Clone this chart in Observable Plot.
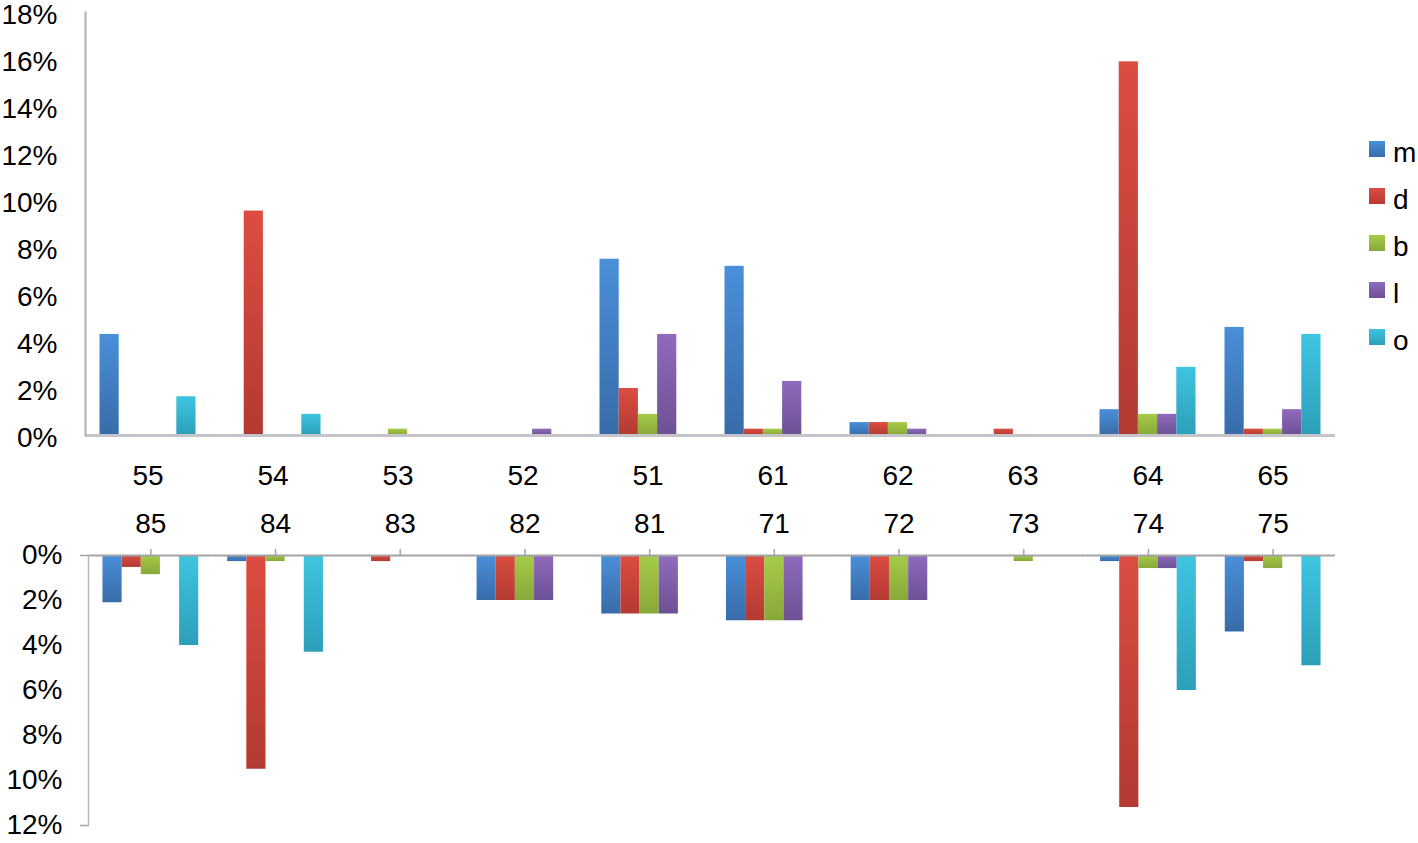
<!DOCTYPE html>
<html>
<head>
<meta charset="utf-8">
<script src="https://cdn.jsdelivr.net/npm/d3@7"></script>
<script src="https://cdn.jsdelivr.net/npm/@observablehq/plot@0.6"></script>
<style>
  html, body { margin: 0; padding: 0; background: #fff; }
  body { width: 1418px; height: 843px; overflow: hidden; position: relative;
         font-family: "Liberation Sans", Arial, sans-serif; color: #000; }
  #top, #bottom { position: absolute; left: 0; }
  #top { top: 0; }
  #bottom { top: 490px; }
  .lg { position: absolute; left: 1369px; width: 60px; height: 30px; }
  .lg .sw { position: absolute; left: 0; top: 0; width: 16px; height: 16px; }
  .lg .tx { position: absolute; left: 24px; top: -2px; font-size: 28px; line-height: 28px; }
</style>
</head>
<body>
<svg width="0" height="0" style="position:absolute">
  <defs>
    <linearGradient id="g-m" x1="0" y1="0" x2="0" y2="1"><stop offset="0" stop-color="#4a8fd9"/><stop offset="1" stop-color="#386ca9"/></linearGradient>
    <linearGradient id="g-d" x1="0" y1="0" x2="0" y2="1"><stop offset="0" stop-color="#dc4d42"/><stop offset="1" stop-color="#b33a32"/></linearGradient>
    <linearGradient id="g-b" x1="0" y1="0" x2="0" y2="1"><stop offset="0" stop-color="#a6cb48"/><stop offset="1" stop-color="#88a83a"/></linearGradient>
    <linearGradient id="g-l" x1="0" y1="0" x2="0" y2="1"><stop offset="0" stop-color="#8f6bbd"/><stop offset="1" stop-color="#6d5195"/></linearGradient>
    <linearGradient id="g-o" x1="0" y1="0" x2="0" y2="1"><stop offset="0" stop-color="#3fc4e0"/><stop offset="1" stop-color="#2c9fb9"/></linearGradient>
  </defs>
</svg>
<div id="top"></div>
<div id="bottom"></div>
<div id="legend"></div>
<script>
// ---- data ----
const series = ["m", "d", "b", "l", "o"];
const topCats = ["55", "54", "53", "52", "51", "61", "62", "63", "64", "65"];
const bottomCats = ["85", "84", "83", "82", "81", "71", "72", "73", "74", "75"];

// upper panel values (%)
const topM = [4.3, 0, 0, 0, 7.5, 7.2, 0.55, 0, 1.1, 4.6];
const topD = [0, 9.55, 0, 0, 2.0, 0.27, 0.55, 0.27, 15.9, 0.27];
const topB = [0, 0, 0.27, 0, 0.9, 0.27, 0.55, 0, 0.9, 0.27];
const topL = [0, 0, 0, 0.27, 4.3, 2.3, 0.27, 0, 0.9, 1.1];
const topO = [1.65, 0.9, 0, 0, 0, 0, 0, 0, 2.9, 4.3];

// lower panel values (%), drawn downward
const botM = [2.1, 0.27, 0, 2.0, 2.6, 2.9, 2.0, 0, 0.27, 3.4];
const botD = [0.53, 9.5, 0.27, 2.0, 2.6, 2.9, 2.0, 0, 11.2, 0.27];
const botB = [0.85, 0.27, 0, 2.0, 2.6, 2.9, 2.0, 0.27, 0.58, 0.58];
const botL = [0, 0, 0, 2.0, 2.6, 2.9, 2.0, 0, 0.58, 0];
const botO = [4.0, 4.3, 0, 0, 0, 0, 0, 0, 6.0, 4.9];

const topTicks = [0, 2, 4, 6, 8, 10, 12, 14, 16, 18];
const bottomTicks = [0, 2, 4, 6, 8, 10, 12];

// ---- styling ----
const gradFills = ["url(#g-m)", "url(#g-d)", "url(#g-b)", "url(#g-l)", "url(#g-o)"];
const swatchCss = [
  "linear-gradient(#4a8fd9,#386ca9)", "linear-gradient(#dc4d42,#b33a32)",
  "linear-gradient(#a6cb48,#88a83a)", "linear-gradient(#8f6bbd,#6d5195)",
  "linear-gradient(#3fc4e0,#2c9fb9)"
];
const font = "'Liberation Sans', Arial, Helvetica, sans-serif";

function table(cats, cols) {
  const rows = [];
  series.forEach((s, j) => cats.forEach((c, i) => {
    const v = cols[j][i];
    if (v > 0) rows.push({cat: c, series: s, value: v});
  }));
  return rows;
}
const topData = table(topCats, [topM, topD, topB, topL, topO]);
const bottomData = table(bottomCats, [botM, botD, botB, botL, botO]);

const pct = d => d + "%";

const topPlot = Plot.plot({
  width: 1418, height: 500,
  marginLeft: 85, marginRight: 83, marginTop: 12, marginBottom: 65,
  style: {fontFamily: font, fontSize: "28px", color: "#000", background: "transparent", overflow: "visible"},
  fx: {domain: topCats, padding: 0, round: false, label: null},
  x: {domain: series, paddingInner: 0, paddingOuter: 0.755, round: false, axis: null},
  y: {domain: [0, 18], label: null},
  color: {domain: series, range: gradFills},
  marks: [
    Plot.barY(topData, {fx: "cat", x: "series", y: "value", fill: "series"}),
    Plot.ruleY([0], {stroke: "#c4c4ca", strokeWidth: 3}),
    Plot.frame({anchor: "left", facetAnchor: "left", stroke: "#b0b0b0", strokeWidth: 2}),
    Plot.axisY({ticks: topTicks, tickSize: 0, tickPadding: 28, tickFormat: pct, fontSize: 28, dy: 3, facetAnchor: "left", fill: "#000", label: null}),
    Plot.axisFx({anchor: "bottom", tickSize: 0, tickPadding: 30, fontSize: 28, fill: "#000", label: null})
  ]
});
document.getElementById("top").appendChild(topPlot);

const bottomPlot = Plot.plot({
  width: 1418, height: 353,
  marginLeft: 88, marginRight: 83, marginTop: 65, marginBottom: 18,
  style: {fontFamily: font, fontSize: "28px", color: "#000", background: "transparent", overflow: "visible"},
  fx: {domain: bottomCats, padding: 0, round: false, label: null},
  x: {domain: series, paddingInner: 0, paddingOuter: 0.755, round: false, axis: null},
  y: {domain: [0, 12], reverse: true, label: null},
  color: {domain: series, range: gradFills},
  marks: [
    Plot.barY(bottomData, {fx: "cat", x: "series", y: "value", fill: "series"}),
    Plot.ruleY([0], {stroke: "#a4a4a4", strokeWidth: 2}),
    Plot.frame({anchor: "left", facetAnchor: "left", stroke: "#b8b8b8", strokeWidth: 1.5}),
    Plot.axisY({ticks: [0, 12], tickSize: 8, tickFormat: () => "", facetAnchor: "left", stroke: "#a4a4a4", strokeWidth: 1.5, label: null}),
    Plot.axisY({ticks: bottomTicks, tickSize: 0, tickPadding: 26, tickFormat: pct, fontSize: 28, facetAnchor: "left", fill: "#000", label: null}),
    Plot.axisFx({anchor: "top", tickSize: 7, tickPadding: 16, fontSize: 28, fill: "#000", stroke: "#a4a4a4", strokeWidth: 1.5, label: null})
  ]
});
document.getElementById("bottom").appendChild(bottomPlot);

// ---- legend ----
const legend = document.getElementById("legend");
series.forEach((s, i) => {
  const row = document.createElement("div");
  row.className = "lg";
  row.style.top = (141 + i * 47) + "px";
  const sw = document.createElement("div");
  sw.className = "sw";
  sw.style.background = swatchCss[i];
  const tx = document.createElement("div");
  tx.className = "tx";
  tx.textContent = s;
  row.appendChild(sw); row.appendChild(tx);
  legend.appendChild(row);
});
</script>
</body>
</html>
